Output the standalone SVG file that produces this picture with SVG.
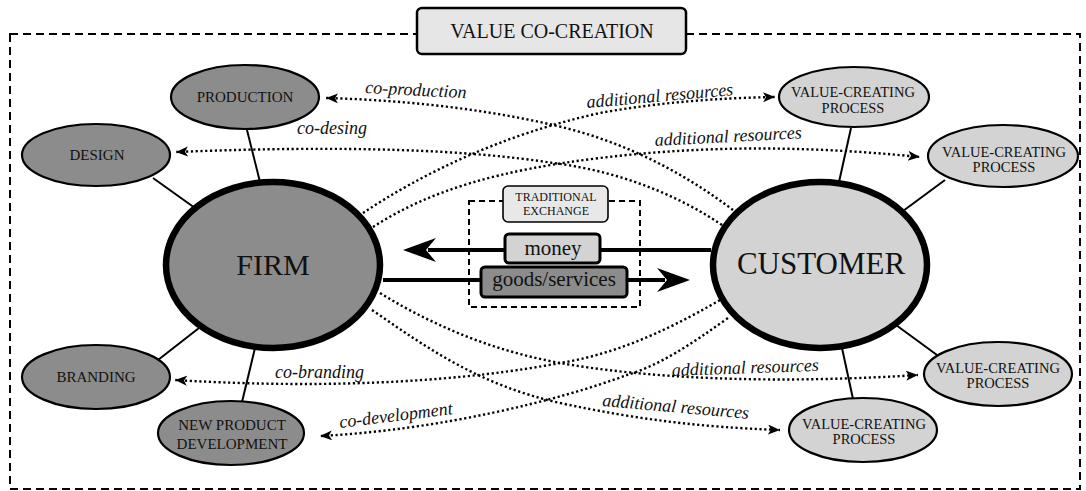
<svg xmlns="http://www.w3.org/2000/svg" width="1086" height="491" viewBox="0 0 1086 491">
<defs>
<style>
.t{font-family:'Liberation Serif','DejaVu Serif',serif;fill:#111;text-anchor:middle}
.lab{font-family:'Liberation Serif','DejaVu Serif',serif;font-style:italic;font-size:18px;fill:#111}
.dot{fill:none;stroke:#000;stroke-width:2.4;stroke-dasharray:2.2 2.6;marker-end:url(#ah)}
.ln{stroke:#000;stroke-width:2;fill:none}
.dk{fill:#8c8c8c;stroke:#000;stroke-width:2.2}
.lt{fill:#d3d3d3;stroke:#000;stroke-width:2.2}
.big{stroke:#000;stroke-width:6.5}
.sm{font-size:15px}
.vc{font-size:14.5px}
</style>
<marker id="ah" markerUnits="userSpaceOnUse" markerWidth="14" markerHeight="12" refX="12" refY="5" orient="auto">
<path d="M0,0 L12,5 L0,10 L3,5 Z" fill="#000"/>
</marker>
</defs>
<rect id="frame" x="10" y="34" width="1070" height="455" fill="none" stroke="#000" stroke-width="2" stroke-dasharray="8 5"/>
<g id="title">
<rect x="417" y="8" width="269" height="46" rx="5" fill="#e6e6e6" stroke="#000" stroke-width="2.5"/>
<text class="t" x="552" y="38" font-size="20">VALUE CO-CREATION</text>
</g>
<g id="connectors">
<line class="ln" x1="247" y1="130" x2="260" y2="182"/>
<line class="ln" x1="153" y1="178" x2="195" y2="208"/>
<line class="ln" x1="158" y1="360" x2="199" y2="328"/>
<line class="ln" x1="242" y1="402" x2="255" y2="348"/>
<line class="ln" x1="851" y1="128" x2="839" y2="182"/>
<line class="ln" x1="945" y1="180" x2="903" y2="211"/>
<line class="ln" x1="937" y1="355" x2="896" y2="325"/>
<line class="ln" x1="853" y1="399" x2="842" y2="348"/>
<path class="dot" d="M363,213 C420,175 500,135 600,113 C660,102 720,98 775,97"/>
<path class="dot" d="M373,227 C430,190 500,170 600,158 C700,146 800,145 920,157"/>
<path class="dot" d="M733,210 C680,170 620,140 553,125 C480,108 400,100 326,98"/>
<path class="dot" d="M722,225 C670,190 610,170 553,163 C470,150 350,145 176,152"/>
<path class="dot" d="M380,293 C440,330 500,352 560,363 C640,377 760,385 918,375"/>
<path class="dot" d="M372,310 C430,350 480,385 560,403 C640,420 700,427 780,430"/>
<path class="dot" d="M720,300 C660,335 610,355 560,363 C470,380 340,390 175,380"/>
<path class="dot" d="M728,318 C690,345 660,365 627,375 C560,400 440,430 320,436"/>
<text class="lab" transform="translate(365,93) rotate(3)">co-production</text>
<text class="lab" x="297" y="134">co-desing</text>
<text class="lab" transform="translate(587,108) rotate(-5)">additional resources</text>
<text class="lab" transform="translate(655,146) rotate(-3)">additional resources</text>
<text class="lab" x="275" y="378">co-branding</text>
<text class="lab" transform="translate(340,428) rotate(-7)">co-development</text>
<text class="lab" transform="translate(672,376) rotate(-2)">additional resources</text>
<text class="lab" transform="translate(602,406) rotate(5)">additional resources</text>
</g>
<g id="exchange">
<rect x="469" y="201" width="171" height="106" fill="none" stroke="#000" stroke-width="2" stroke-dasharray="6 4"/>
<line x1="711" y1="250" x2="428" y2="250" stroke="#000" stroke-width="4"/>
<path d="M403,250 L436,238 L426,250 L436,262 Z" fill="#000"/>
<line x1="383" y1="280" x2="665" y2="280" stroke="#000" stroke-width="4"/>
<path d="M690,280 L657,268 L667,280 L657,292 Z" fill="#000"/>
</g>
<g id="traditional">
<rect x="503" y="186" width="105" height="36" rx="5" fill="#e8e8e8" stroke="#000" stroke-width="1.6"/>
<text class="t" x="556" y="201" font-size="12">TRADITIONAL</text>
<text class="t" x="556" y="215" font-size="12">EXCHANGE</text>
</g>
<g id="money">
<rect x="505" y="234" width="95" height="29" rx="4" fill="#d3d3d3" stroke="#000" stroke-width="3"/>
<text class="t" x="553" y="255" font-size="21">money</text>
</g>
<g id="goods">
<rect x="481" y="267" width="146" height="30" rx="4" fill="#8c8c8c" stroke="#000" stroke-width="3"/>
<text class="t" x="554" y="286" font-size="21">goods/services</text>
</g>
<g id="firm">
<ellipse class="dk big" cx="273" cy="265" rx="107" ry="83"/>
<text class="t" x="273" y="275" font-size="30">FIRM</text>
</g>
<g id="customer">
<ellipse class="lt big" cx="820" cy="265" rx="107" ry="83"/>
<text class="t" x="821" y="274" font-size="31">CUSTOMER</text>
</g>
<g id="production">
<ellipse class="dk" cx="245" cy="97" rx="74" ry="32"/>
<text class="t sm" x="245" y="102">PRODUCTION</text>
</g>
<g id="design">
<ellipse class="dk" cx="96" cy="155" rx="74" ry="31"/>
<text class="t sm" x="97" y="160">DESIGN</text>
</g>
<g id="branding">
<ellipse class="dk" cx="96" cy="377" rx="74" ry="32"/>
<text class="t sm" x="96" y="382">BRANDING</text>
</g>
<g id="npd">
<ellipse class="dk" cx="231" cy="433" rx="73" ry="32"/>
<text class="t sm" x="232" y="430">NEW PRODUCT</text>
<text class="t sm" x="232" y="449">DEVELOPMENT</text>
</g>
<g id="vcp1">
<ellipse class="lt" cx="854" cy="97" rx="75" ry="30"/>
<text class="t vc" x="853" y="97">VALUE-CREATING</text>
<text class="t vc" x="853" y="113">PROCESS</text>
</g>
<g id="vcp2">
<ellipse class="lt" cx="1003" cy="156" rx="75" ry="31"/>
<text class="t vc" x="1004" y="157">VALUE-CREATING</text>
<text class="t vc" x="1004" y="172">PROCESS</text>
</g>
<g id="vcp3">
<ellipse class="lt" cx="998" cy="374" rx="74" ry="32"/>
<text class="t vc" x="998" y="373">VALUE-CREATING</text>
<text class="t vc" x="998" y="388">PROCESS</text>
</g>
<g id="vcp4">
<ellipse class="lt" cx="863" cy="430" rx="74" ry="32"/>
<text class="t vc" x="864" y="429">VALUE-CREATING</text>
<text class="t vc" x="864" y="444">PROCESS</text>
</g>
</svg>
